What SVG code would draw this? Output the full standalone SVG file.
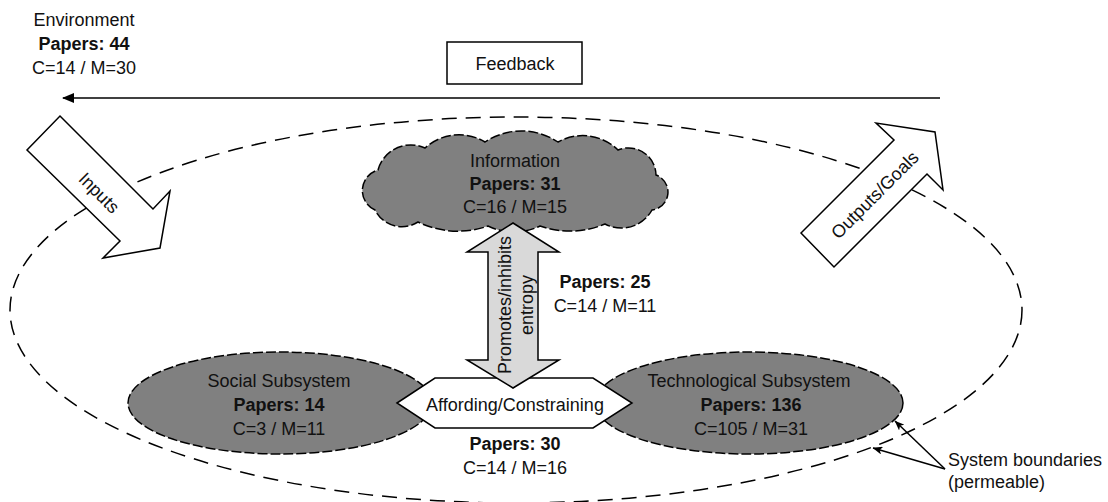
<svg xmlns="http://www.w3.org/2000/svg" width="1108" height="502" viewBox="0 0 1108 502">
<style>
text{font-family:"Liberation Sans",Arial,sans-serif;font-size:18px;fill:#111;text-anchor:middle}
.b{font-weight:bold}
.l{text-anchor:start}
.blob{fill:#808080;stroke:#000;stroke-width:1.5;stroke-dasharray:10 3}
.wh{fill:#fff;stroke:#000;stroke-width:1.5;stroke-linejoin:miter}
.ln{fill:none;stroke:#000;stroke-width:1.5}
</style>
<defs>
<marker id="ah" viewBox="0 0 12 10" refX="11" refY="5" markerWidth="12" markerHeight="10" markerUnits="userSpaceOnUse" orient="auto">
<path d="M0,0 L12,5 L0,10 Z" fill="#000"/>
</marker>
<marker id="sh" viewBox="0 0 10 8" refX="9.5" refY="4" markerWidth="10" markerHeight="8" markerUnits="userSpaceOnUse" orient="auto">
<path d="M0,0 L10,4 L0,8 L2.5,4 Z" fill="#000"/>
</marker>
</defs>
<g id="boundary">
<ellipse cx="516" cy="310" rx="506" ry="193" fill="none" stroke="#000" stroke-width="1.5" stroke-dasharray="15 9"/>
</g>
<g id="connectors">
<line class="ln" x1="940" y1="98" x2="63" y2="98" marker-end="url(#ah)"/>
<line class="ln" x1="945" y1="469" x2="895" y2="421" stroke-width="1.3" marker-end="url(#sh)"/>
<line class="ln" x1="945" y1="469" x2="873" y2="448" stroke-width="1.3" marker-end="url(#sh)"/>
</g>
<g id="environment">
<text x="84" y="26">Environment</text>
<text x="84" y="50" class="b">Papers: 44</text>
<text x="84" y="74">C=14 / M=30</text>
</g>
<g id="feedback">
<rect x="447" y="42" width="135" height="42" class="wh"/>
<text x="515" y="70">Feedback</text>
</g>
<g id="information">
<path class="blob" d="M375,210 A21.3,21.3 0 0 1 378,170 A34,34 0 0 1 425,148 A50.5,50.5 0 0 1 485,142 A66,66 0 0 1 558,142 A50.7,50.7 0 0 1 618,150 A27.5,27.5 0 0 1 656,175 A18.1,18.1 0 0 1 652,210 A35,35 0 0 1 605,224 A91,91 0 0 1 540,226 A59,59 0 0 1 488,226 A91,91 0 0 1 418,222 A30,30 0 0 1 375,210 Z"/>
<text x="515" y="167">Information</text>
<text x="515" y="190" class="b">Papers: 31</text>
<text x="515" y="213">C=16 / M=15</text>
</g>
<g id="social">
<ellipse class="blob" cx="280" cy="403" rx="152" ry="51"/>
<text x="279" y="387">Social Subsystem</text>
<text x="279" y="411" class="b">Papers: 14</text>
<text x="279" y="435">C=3 / M=11</text>
</g>
<g id="technological">
<ellipse class="blob" cx="749" cy="403" rx="154" ry="51"/>
<text x="749" y="387">Technological Subsystem</text>
<text x="751" y="411" class="b">Papers: 136</text>
<text x="751" y="435">C=105 / M=31</text>
</g>
<g id="affording">
<polygon class="wh" points="397,403 435,378 593,378 632,403 593,428 435,428"/>
<text x="515" y="411">Affording/Constraining</text>
<text x="515" y="450" class="b">Papers: 30</text>
<text x="515" y="474">C=14 / M=16</text>
</g>
<g id="entropy">
<polygon points="513,223 559,252 538,252 538,360 559,360 513,388 467,360 488,360 488,252 467,252" fill="#d9d9d9" stroke="#000" stroke-width="1.5"/>
<text transform="translate(511,305) rotate(-90)">Promotes/inhibits</text>
<text transform="translate(533,305) rotate(-90)">entropy</text>
<text x="605" y="288" class="b">Papers: 25</text>
<text x="605" y="312">C=14 / M=11</text>
</g>
<g id="inputs">
<polygon class="wh" points="60,116 153,209 170,191 160,248 103,258 120,241 27,150"/>
<text transform="translate(99,193) rotate(45)" y="6">Inputs</text>
</g>
<g id="outputs">
<polygon class="wh" points="801,233 894,140 876,123 935,132 943,190 927,174 834,267"/>
<text transform="translate(875,195) rotate(-45)" y="6">Outputs/Goals</text>
</g>
<g id="system-boundaries">
<text x="948" y="466" class="l">System boundaries</text>
<text x="948" y="488" class="l">(permeable)</text>
</g>
</svg>
